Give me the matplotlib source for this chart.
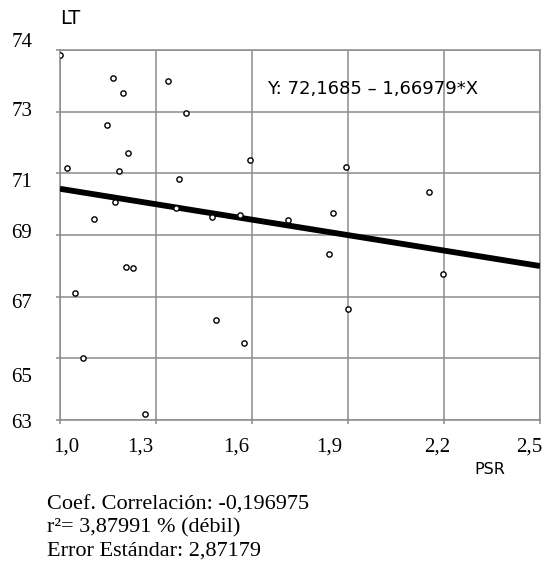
import matplotlib
matplotlib.use("Agg")
import matplotlib.pyplot as plt
import matplotlib.transforms as mtransforms
import numpy as np

# Observations (PSR vs LT)
psr = [1.000, 1.166, 1.197, 1.336, 1.393, 1.147, 1.214, 1.021, 1.183, 1.372,
       1.107, 1.476, 1.171, 1.362, 1.595, 1.893, 1.714, 1.853, 1.564, 2.154,
       1.207, 1.228, 1.047, 1.072, 1.266, 1.486, 1.576, 1.841, 1.900, 2.198]
lt = [74.85, 74.08, 73.62, 74.00, 72.95, 72.56, 71.67, 71.18, 71.08, 70.82,
      69.52, 69.59, 70.08, 69.87, 71.43, 71.20, 69.49, 69.72, 69.65, 70.40,
      67.97, 67.92, 67.11, 65.00, 63.18, 66.24, 65.49, 68.38, 66.60, 67.72]

# Fitted model  LT = a + b * PSR
intercept = 72.1685
slope = -1.66979

x_ticks = [1.0, 1.3, 1.6, 1.9, 2.2, 2.5]
y_ticks = [63, 65, 67, 69, 71, 73, 75]
x_tick_text = ["1,0", "1,3", "1,6", "1,9", "2,2", "2,5"]
x_tick_pos = [1.019, 1.251, 1.552, 1.841, 2.179, 2.465]
y_tick_text = ["74", "73", "71", "69", "67", "65", "63"]
y_tick_pos = [75.23, 72.99, 70.69, 69.06, 66.79, 64.39, 62.90]

stats_lines = ["Coef. Correlación: -0,196975",
               "r\u00b2= 3,87991 % (débil)",
               "Error Estándar: 2,87179"]

W, H = 546, 570
fig = plt.figure(figsize=(W / 100, H / 100), dpi=100)
fig.patch.set_facecolor("white")
ax = fig.add_axes([60 / W, 1 - 420 / H, 480 / W, 370 / H])

grid_c = "#8c8c8c"
ax.set_xlim(1.0, 2.5)
ax.set_ylim(63, 75)
ax.set_xticks(x_ticks)
ax.set_yticks(y_ticks)
ax.set_xticklabels([])
ax.set_yticklabels([])
ax.tick_params(length=3, width=1.1, color=grid_c, direction="out")
ax.grid(True, color=grid_c, linewidth=1.1)
ax.set_axisbelow(True)
for sp in ax.spines.values():
    sp.set_color(grid_c)
    sp.set_linewidth(1.1)

# regression line
xl = np.array([1.0, 2.5])
ax.plot(xl, intercept + slope * xl, color="black", linewidth=4.2,
        solid_capstyle="butt", zorder=3)

# data points
ax.plot(psr, lt, linestyle="none", marker="o", markersize=3.8,
        markerfacecolor="white", markeredgecolor="black",
        markeredgewidth=1.0, zorder=4, clip_on=True)

serif = "Liberation Serif"
sans = "DejaVu Sans"

# axis tick labels
ty = mtransforms.blended_transform_factory(ax.transAxes, ax.transData)
for t, v in zip(y_tick_text, y_tick_pos):
    ax.text(-0.058, v, t, transform=ty, ha="right", va="center",
            fontsize=15, family=serif, clip_on=False)
tx = mtransforms.blended_transform_factory(ax.transData, ax.transAxes)
for t, v in zip(x_tick_text, x_tick_pos):
    ax.text(v, -0.073, t, transform=tx, ha="center", va="center",
            fontsize=15, family=serif, clip_on=False)

# axis titles
fig.text(60 / W, 1 - 18 / H, "LT", ha="left", va="center",
         fontsize=14, family=sans)
fig.text(490 / W, 1 - 470 / H, "PSR", ha="center", va="center",
         fontsize=11.5, family=sans)

# fitted equation
ax.text(267 / W, 1 - 89 / H, "Y: 72,1685 \u2013 1,66979*X",
        transform=fig.transFigure, ha="left", va="center",
        fontsize=13, family=sans)

# summary statistics
for i, line in enumerate(stats_lines):
    fig.text(47 / W, 1 - (505 + 23 * i) / H, line, ha="left", va="center",
             fontsize=16, family=serif)

fig.savefig("out.png", dpi=100, facecolor="white")
